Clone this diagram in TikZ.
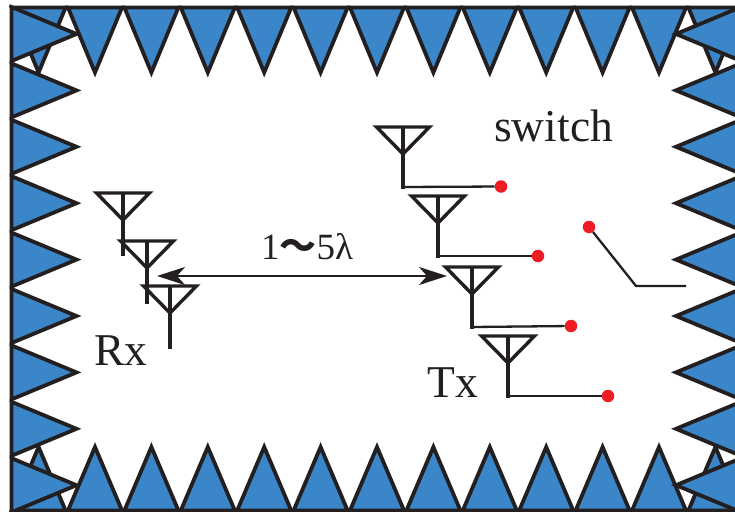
\documentclass[tikz,border=0pt]{standalone}
\usepackage{fontspec}
\setmainfont{Liberation Serif}
\newfontfamily\cjk{Noto Sans CJK SC}
\usetikzlibrary{arrows.meta}
\definecolor{ink}{HTML}{231F20}
\definecolor{absorber}{HTML}{3A86C8}
\definecolor{contact}{HTML}{EE1C25}
\tikzset{
  x=1pt,y=-1pt,
  tooth/.style={draw=ink,fill=absorber,line width=3.8pt,miter limit=10,line join=miter},
  aerial/.style={draw=ink,line width=3.4pt,miter limit=10},
  mast/.style={draw=ink,line width=3.4pt},
  feed/.style={draw=ink,line width=2.3pt},
  contactdot/.style={circle,fill=contact,inner sep=0pt,minimum size=12.5pt},
  label/.style={inner sep=0pt,text=ink,font=\fontsize{45.5}{46}\selectfont,anchor=base west},
  span/.style={draw=ink,line width=2pt,{Stealth[length=28pt,width=18pt,inset=8pt]}-{Stealth[length=28pt,width=18pt,inset=8pt]},shorten >=0pt,shorten <=0pt}
}
% #1 centre x, #2 bar y, #3 mast foot y
\newcommand{\aerialat}[3]{%
  \draw[aerial] (#1-26.5,#2) -- (#1+26.5,#2) -- (#1,#2+27) -- cycle;
  \draw[mast] (#1,#2) -- (#1,#3);
}
\begin{document}
\begin{tikzpicture}
\useasboundingbox (0,0) rectangle (735,511);
\fill[white] (0,0) rectangle (735,511);
\clip (0,0) rectangle (735,511);
% corner teeth behind
\foreach \c in {38.6,715.4}{
  \draw[tooth] (\c-27,7.5) -- (\c,72.5) -- (\c+27,7.5) -- cycle;
  \draw[tooth] (\c-27,510.5) -- (\c,447) -- (\c+27,510.5) -- cycle;
}
% top and bottom rows
\foreach \k in {1,...,11}{
  \pgfmathsetmacro{\c}{38.6+56.4*\k}
  \draw[tooth] (\c-27,7.5) -- (\c,72.5) -- (\c+27,7.5) -- cycle;
  \draw[tooth] (\c-27,510.5) -- (\c,447) -- (\c+27,510.5) -- cycle;
}
% left and right columns
\foreach \k in {0,...,8}{
  \pgfmathsetmacro{\c}{34+56.4*\k}
  \draw[tooth] (11.5,\c-27) -- (76.5,\c) -- (11.5,\c+27) -- cycle;
  \draw[tooth] (741,\c-27) -- (676,\c) -- (741,\c+27) -- cycle;
}
% chamber walls
\draw[ink,line width=3.6pt] (11.5,511) -- (11.5,7.5) -- (735,7.5);
% receive array
\aerialat{123}{193}{256}
\aerialat{147}{241}{304}
\aerialat{170}{286}{349}
% transmit array
\aerialat{403}{127}{189}
\aerialat{438}{196}{258}
\aerialat{472}{267}{329}
\aerialat{508}{336}{398}
\node[contactdot] (d1) at (501,186.5) {};
\node[contactdot] (d2) at (538,256) {};
\node[contactdot] (d3) at (571,326) {};
\node[contactdot] (d4) at (608,396) {};
\coordinate (f1) at (403,187);
\coordinate (f2) at (438,256);
\coordinate (f3) at (472,327);
\coordinate (f4) at (508,396);
\draw[feed] (f1) -- (d1);
\draw[feed] (f2) -- (d2);
\draw[feed] (f3) -- (d3);
\draw[feed] (f4) -- (d4);
% switch arm
\node[contactdot] (arm) at (589,227) {};
\coordinate (knee) at (636,286);
\coordinate (armend) at (686,286);
\draw[feed] (arm) -- (knee) -- (armend);
% spacing arrow
\coordinate (sl) at (157,276);
\coordinate (sr) at (447,276);
\draw[span] (sl) -- (sr);
% labels
\node[label] (sw) at (494,141) {switch};
\node[label] (rx) at (94,365) {Rx};
\node[label] (tx) at (427,397) {Tx};
\node[label,font=\fontsize{37}{37}\selectfont] (dist) at (261,259) {1{\cjk\bfseries ～}5λ};
\end{tikzpicture}
\end{document}
